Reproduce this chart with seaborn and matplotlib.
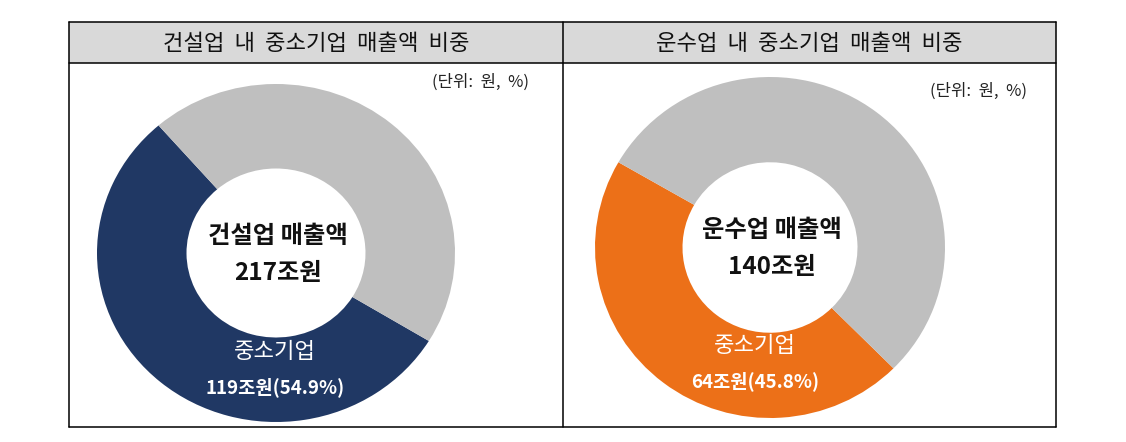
import matplotlib
matplotlib.use("Agg")
import matplotlib.pyplot as plt
import seaborn as sns
from matplotlib.patches import Rectangle

# ---- data ----
industries = ["건설업", "운수업"]
panel_titles = ["건설업 내 중소기업 매출액 비중", "운수업 내 중소기업 매출액 비중"]
total_sales = [217, 140]          # 조원
sme_sales = [119, 64]             # 조원
sme_share = [54.9, 45.8]          # %
unit_label = "(단위: 원, %)"
sme_label = "중소기업"

sns.set_theme(style="white")
plt.rcParams['font.family'] = ['Noto Sans CJK KR', 'DejaVu Sans']

navy = "#203864"
orange = "#ec7018"
gray = "#bfbfbf"
ring_colors = [navy, orange]
header_bg = "#d9d9d9"

W, H = 1126, 442
fig = plt.figure(figsize=(W / 100, H / 100), dpi=100)
fig.patch.set_facecolor("white")

# background axes in pixel coordinates for the table frame
bg = fig.add_axes([0, 0, 1, 1])
bg.set_xlim(0, W)
bg.set_ylim(H, 0)
bg.axis("off")
bg.set_zorder(0)

x_left, x_mid, x_right = 69, 563, 1056
y_top, y_head, y_bot = 22, 63, 427
bg.add_patch(Rectangle((x_left, y_top), x_right - x_left, y_head - y_top,
                       facecolor=header_bg, edgecolor="none"))
lw = 1.1
bg.plot([x_left, x_right], [y_top, y_top], color="black", lw=lw)
bg.plot([x_left, x_right], [y_head, y_head], color="black", lw=lw)
bg.plot([x_left, x_right], [y_bot, y_bot], color="black", lw=lw)
for xx in (x_left, x_mid, x_right):
    bg.plot([xx, xx], [y_top, y_bot], color="black", lw=lw)

title_x = [(x_left + x_mid) / 2, (x_mid + x_right) / 2]
for i, t in enumerate(panel_titles):
    bg.text(title_x[i], (y_top + y_head) / 2 + 1, t.replace(" ", "  "), ha="center", va="center",
            fontsize=16, color="#111111")

# unit labels
unit_pos = [(480, 82), (978, 91)]
for (ux, uy) in unit_pos:
    bg.text(ux, uy, unit_label.replace(" ", "  "), ha="center", va="center", fontsize=12, color="#222222")

# donut geometry (pixel boxes) and start angles
boxes = [(97, 84, 358, 338), (595, 77, 350, 341)]
starts = [131, 150]
centers = [(276, 253), (770, 247)]
sme_text_x = [275, 755]

for i in range(2):
    lx, ty, w, h = boxes[i]
    ax = fig.add_axes([lx / W, 1 - (ty + h) / H, w / W, h / H])
    ax.set_zorder(1)
    ax.patch.set_visible(False)
    ax.pie([sme_share[i], 100 - sme_share[i]],
           colors=[ring_colors[i], gray], startangle=starts[i], counterclock=True,
           radius=1.0, wedgeprops=dict(width=0.5, edgecolor="none"))
    ax.set_xlim(-1, 1)
    ax.set_ylim(-1, 1)
    ax.set_aspect("auto")
    ax.axis("off")

# texts above the rings
top = fig.add_axes([0, 0, 1, 1])
top.set_xlim(0, W)
top.set_ylim(H, 0)
top.axis("off")
top.set_zorder(2)
top.patch.set_visible(False)
for i in range(2):
    cx, cy = centers[i]
    top.text(cx + 2, cy - 17, f"{industries[i]} 매출액", ha="center", va="center",
             fontsize=17.5, fontweight="bold", color="#111111")
    top.text(cx + 2, cy + 20, f"{total_sales[i]}조원", ha="center", va="center",
             fontsize=17.5, fontweight="bold", color="#111111")
    top.text(sme_text_x[i], cy + 98, sme_label, ha="center", va="center",
             fontsize=16, fontweight="medium", color="white")
    top.text(sme_text_x[i], cy + 134, f"{sme_sales[i]}조원({sme_share[i]}%)", ha="center",
             va="center", fontsize=13.5, fontweight="bold", color="white")

fig.savefig("out.png", dpi=100, facecolor="white")
